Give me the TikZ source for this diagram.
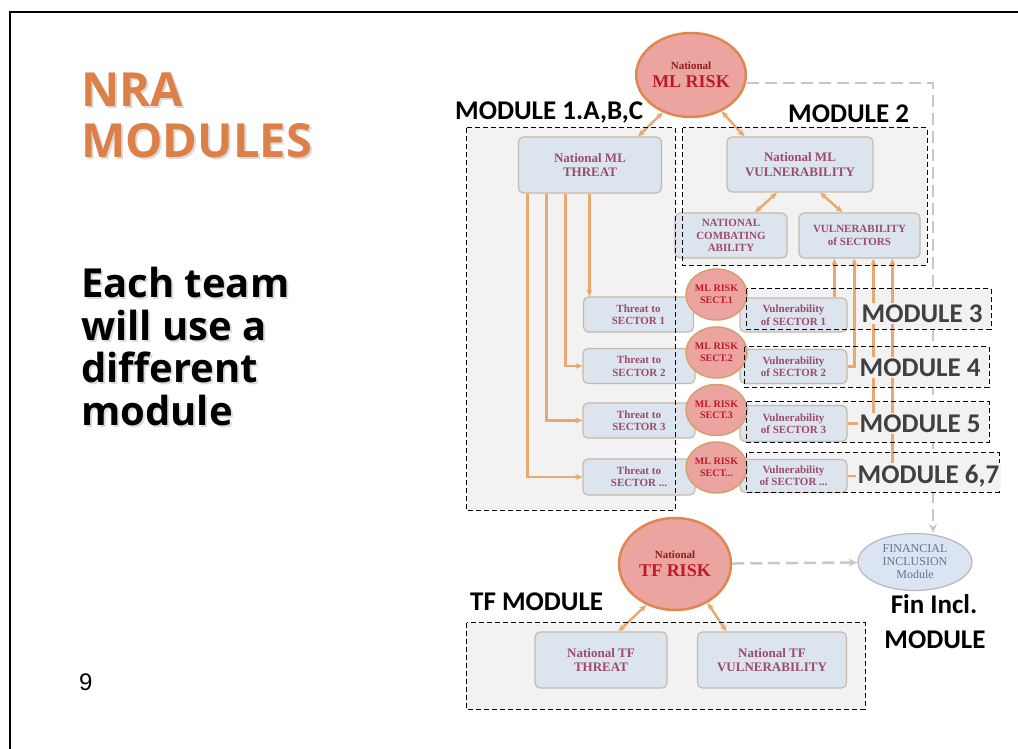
\documentclass[tikz,border=0pt]{standalone}
\usepackage{fontspec}
\setmainfont{Liberation Serif}
\newfontfamily\osans{Open Sans}
\newfontfamily\carl{Carlito}
\newfontfamily\lsans{Liberation Sans}
\usetikzlibrary{shapes.geometric,arrows.meta}
\pgfdeclarelayer{bg}
\pgfsetlayers{bg,main}
\definecolor{orng}{RGB}{221,128,71}
\definecolor{boxfill}{RGB}{220,228,238}
\definecolor{boxedge}{RGB}{200,185,168}
\definecolor{boxtext}{RGB}{155,75,110}
\definecolor{riskfill}{RGB}{236,164,160}
\definecolor{riskedge}{RGB}{224,135,80}
\definecolor{sectedge}{RGB}{214,160,110}
\definecolor{riskred}{RGB}{190,25,40}
\definecolor{natred}{RGB}{140,30,30}
\definecolor{oline}{RGB}{232,168,110}
\definecolor{panel}{RGB}{242,242,242}
\definecolor{gdash}{RGB}{200,200,200}
\definecolor{fintext}{RGB}{100,115,145}
\definecolor{finfill}{RGB}{218,228,242}
\definecolor{modgray}{RGB}{64,64,64}
\begin{document}
\begin{tikzpicture}[x=1pt,y=-1pt,
  box/.style={draw=boxedge,fill=boxfill,rounded corners=5pt,line width=1.2pt,inner sep=0pt,align=center,text=boxtext,font=\bfseries\fontsize{13}{14.5}\selectfont},
  sbox/.style={box,font=\bfseries\fontsize{11}{12.5}\selectfont},
  riskell/.style={ellipse,draw=riskedge,fill=riskfill,line width=2.5pt,inner sep=0pt,align=center,text=riskred,font=\bfseries\fontsize{18}{18}\selectfont},
  sectell/.style={ellipse,draw=sectedge,fill=riskfill,line width=1.5pt,inner sep=0pt,align=center,text=riskred,font=\bfseries\fontsize{10}{11.5}\selectfont,minimum width=61pt,minimum height=51pt},
  modfill/.style={fill=panel,draw=none,inner sep=0pt},
  dashbox/.style={draw=black,line width=1.1pt,dash pattern=on 5pt off 3pt},
  oln/.style={draw=oline,line width=2.4pt},
  oarr/.style={oln,{Stealth[length=7pt,width=6pt]}-{Stealth[length=7pt,width=6pt]}},
  otip/.style={oln,-{Stealth[length=7pt,width=6pt]}},
  itip/.style={oln,{Stealth[length=7pt,width=6pt]}-},
  gline/.style={draw=gdash,line width=2.5pt,dash pattern=on 12pt off 6pt,-{Stealth[length=9pt,width=8pt]}},
  mlabel/.style={font=\carl\bfseries\fontsize{27}{30}\selectfont,inner sep=0pt,anchor=base west},
  glabel/.style={mlabel,text=modgray,fill=panel,inner sep=1.5pt},
  ttl/.style={font=\osans\bfseries\fontsize{47}{50}\selectfont,inner sep=0pt,anchor=base west,text=orng},
  body/.style={font=\osans\bfseries\fontsize{40}{43}\selectfont,inner sep=0pt,anchor=base west,text=black},
  shad/.style={text=black!14}
]
\useasboundingbox (0,0) rectangle (1018,749);
\begin{pgfonlayer}{bg}
\fill[white] (0,0) rectangle (1018,749);
\end{pgfonlayer}

% slide frame
\coordinate (fa) at (1020,12);
\coordinate (fb) at (10,12);
\coordinate (fc) at (10,751);
\draw[line width=2.5pt,line join=miter] (fa) -- (fb) -- (fc);

% left texts
\node[ttl,shad] (t1s) at (83,109) {NRA};
\node[ttl,shad] (t2s) at (83,160) {MODULES};
\node[ttl] (title1) at (81,107) {NRA};
\node[ttl] (title2) at (81,158) {MODULES};
\node[body,shad] (b1s) at (83,299) {Each team};
\node[body,shad] (b2s) at (83,342) {will use a};
\node[body,shad] (b3s) at (83,384) {different};
\node[body,shad] (b4s) at (83,427) {module};
\node[body] (b1) at (81,297) {Each team};
\node[body] (b2) at (81,340) {will use a};
\node[body] (b3) at (81,382) {different};
\node[body] (b4) at (81,425) {module};
\node[font=\lsans\fontsize{24}{26}\selectfont,inner sep=0pt,anchor=base west] (pnum) at (79,690) {9};

% module panels
\node[modfill,minimum width=208pt,minimum height=382pt] (mod1) at (571,319) {};
\node[modfill,minimum width=244pt,minimum height=137pt] (mod2) at (805,196.5) {};
\node[modfill,minimum width=398pt,minimum height=86pt] (modtf) at (666,666) {};
\node[modfill,minimum width=244pt,minimum height=40pt] (mod3) at (869,309) {};
\node[modfill,minimum width=244pt,minimum height=40pt] (mod4) at (867,367) {};
\node[modfill,minimum width=242pt,minimum height=40pt] (mod5) at (868,422) {};
\node[modfill,minimum width=252pt,minimum height=39pt] (mod67) at (873,472.5) {};

% ML part
\node[riskell,minimum width=108pt,minimum height=84pt] (mlrisk) at (691,75)
  {{\color{natred}\fontsize{11}{12}\selectfont National}\\ML RISK};
\node[box,minimum width=143pt,minimum height=56pt] (mlthreat) at (590,165) {National ML\\THREAT};
\node[box,minimum width=146pt,minimum height=55pt] (mlvuln) at (800,164.5) {National ML\\VULNERABILITY};
\node[sbox,minimum width=112pt,minimum height=45pt] (combat) at (731,235.5) {NATIONAL\\COMBATING\\ABILITY};
\node[sbox,minimum width=121pt,minimum height=45pt] (vsect) at (859.5,235.5) {VULNERABILITY\\of SECTORS};

\node[sbox,minimum width=110pt,minimum height=35pt] (th1) at (638.5,314.5) {Threat to\\SECTOR 1};
\node[sbox,minimum width=112pt,minimum height=35pt] (th2) at (639,366) {Threat to\\SECTOR 2};
\node[sbox,minimum width=112pt,minimum height=35pt] (th3) at (639,420.5) {Threat to\\SECTOR 3};
\node[sbox,minimum width=112pt,minimum height=36pt] (th4) at (639,477) {Threat to\\SECTOR ...};

\node[sbox,minimum width=107pt,minimum height=34pt] (vu1) at (793.5,315) {Vulnerability\\of SECTOR 1};
\node[sbox,minimum width=107pt,minimum height=34pt] (vu2) at (793.5,366.5) {Vulnerability\\of SECTOR 2};
\node[sbox,minimum width=107pt,minimum height=36pt] (vu3) at (793.5,423.5) {Vulnerability\\of SECTOR 3};
\node[sbox,minimum width=107pt,minimum height=33pt] (vu4) at (793.5,476) {Vulnerability\\of SECTOR ...};

\node[sectell] (se1) at (716.5,294.5) {ML RISK\\SECT.1};
\node[sectell] (se2) at (716.5,352.5) {ML RISK\\SECT.2};
\node[sectell] (se3) at (716.5,410) {ML RISK\\SECT.3};
\node[sectell] (se4) at (716.5,467.5) {ML RISK\\SECT...};

% TF part
\node[riskell,minimum width=112pt,minimum height=92pt] (tfrisk) at (675,564)
  {{\color{natred}\fontsize{11}{12}\selectfont National}\\TF RISK};
\node[box,minimum width=132pt,minimum height=56pt] (tfthreat) at (601,660) {National TF\\THREAT};
\node[box,minimum width=149pt,minimum height=56pt] (tfvuln) at (772,660) {National TF\\VULNERABILITY};
\node[ellipse,draw=black!28,fill=finfill,line width=1.2pt,inner sep=0pt,align=center,text=fintext,
  font=\fontsize{12}{13}\selectfont,minimum width=114pt,minimum height=57pt] (fin) at (915,562)
  {FINANCIAL\\INCLUSION\\Module};

% grey dashed connectors
\begin{pgfonlayer}{bg}
\draw[gline] ([yshift=-8pt]mlrisk.east) -| ([xshift=18pt]fin.north);
\end{pgfonlayer}
\draw[gline] (tfrisk) -- (fin);

% orange connectors
\draw[oarr] (mlrisk.233) -- ([xshift=-24pt]mlthreat.north east);
\draw[oarr] (mlrisk.310) -- ([xshift=18pt]mlvuln.north west);
\draw[oarr] ([xshift=-23pt]mlvuln.south) -- ([xshift=24pt]combat.north);
\draw[oarr] ([xshift=20pt]mlvuln.south) -- ([xshift=-17pt]vsect.north);
\draw[oarr] (tfrisk.235) -- ([xshift=84pt]tfthreat.north west);
\draw[oarr] (tfrisk.310) -- ([xshift=29.5pt]tfvuln.north west);

\coordinate (ta) at ([xshift=9.5pt]mlthreat.south west);
\coordinate (tb) at ([xshift=28.5pt]mlthreat.south west);
\coordinate (tc) at ([xshift=47.5pt]mlthreat.south west);
\coordinate (td) at ([xshift=71.5pt]mlthreat.south west);
\draw[otip] (td) -- (td |- th1.north);
\draw[otip] (tc) |- (th2.west);
\draw[otip] (tb) |- (th3.west);
\draw[otip] (ta) |- (th4.west);

\coordinate (va) at ([xshift=36pt]vsect.south west);
\coordinate (vb) at ([xshift=56pt]vsect.south west);
\coordinate (vc) at ([xshift=75pt]vsect.south west);
\coordinate (vd) at ([xshift=94pt]vsect.south west);
\draw[itip] (va) -- (va |- vu1.north);
\draw[itip] (vb) |- (vu2.east);
\draw[itip] (vc) |- (vu3.east);
\draw[itip] (vd) |- (vu4.east);

% dashed module frames
\draw[dashbox] (mod1.north west) rectangle (mod1.south east);
\draw[dashbox] (mod2.north west) rectangle (mod2.south east);
\draw[dashbox] (modtf.north west) rectangle (modtf.south east);
\draw[dashbox] (mod3.north west) rectangle (mod3.south east);
\draw[dashbox] (mod4.north west) rectangle (mod4.south east);
\draw[dashbox] (mod5.north west) rectangle (mod5.south east);
\draw[dashbox] (mod67.north west) rectangle (mod67.south east);

% module labels
\node[mlabel] (l1) at (455,120) {MODULE 1.A,B,C};
\node[mlabel] (l2) at (788,123) {MODULE 2};
\node[glabel] (l3) at (860,322) {MODULE 3};
\node[glabel] (l4) at (858,376) {MODULE 4};
\node[glabel] (l5) at (858,432) {MODULE 5};
\node[glabel] (l67) at (856,483) {MODULE 6,7};
\node[mlabel] (ltf) at (470,610) {TF MODULE};
\node[mlabel,anchor=base] (lf1) at (934,613) {Fin Incl.};
\node[mlabel,anchor=base] (lf2) at (935,648) {MODULE};
\end{tikzpicture}
\end{document}
